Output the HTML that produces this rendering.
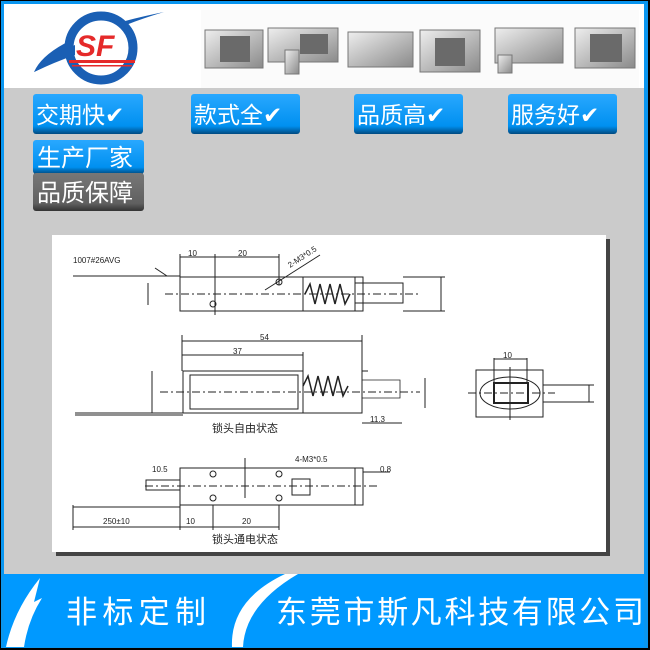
<!DOCTYPE html>
<html><head><meta charset="utf-8"><style>
html,body{margin:0;padding:0;background:#000;}
svg{display:block}
text{font-family:"Liberation Sans","Noto Sans CJK SC",sans-serif}
</style></head><body>
<svg width="650" height="650" viewBox="0 0 650 650" xmlns="http://www.w3.org/2000/svg">
<defs>
<linearGradient id="bb" x1="0" y1="0" x2="0" y2="1"><stop offset="0" stop-color="#29a8ff"/><stop offset="0.8" stop-color="#0090f0"/><stop offset="1" stop-color="#004a80"/></linearGradient>
<linearGradient id="gb" x1="0" y1="0" x2="0" y2="1"><stop offset="0" stop-color="#777"/><stop offset="0.8" stop-color="#606060"/><stop offset="1" stop-color="#333"/></linearGradient>
<linearGradient id="pg" x1="0" y1="0" x2="1" y2="1"><stop offset="0" stop-color="#eeeeee"/><stop offset="1" stop-color="#8a8a8a"/></linearGradient>
</defs>
<rect x="1" y="1" width="647" height="647" fill="#0a96f0"/>
<rect x="4" y="4" width="640" height="84" fill="#fff"/>
<rect x="4" y="88" width="640" height="486" fill="#cbcbcb"/>
<rect x="4" y="574" width="640" height="73" fill="#0099ff"/>
<!-- logo -->
<path d="M34 72 Q50 35 164 12 Q120 25 95 40 Q60 60 34 72 Z" fill="#1a5fb4"/>
<ellipse cx="101" cy="48" rx="32" ry="32" fill="#fff" stroke="#1a5fb4" stroke-width="9"/>
<path d="M34 72 Q50 55 75 45 L75 55 Q55 62 34 72 Z" fill="#1a5fb4"/>
<text x="76" y="56" font-size="30" font-weight="bold" font-style="italic" fill="#e52a2a" font-family="Liberation Sans,sans-serif">SF</text>
<rect x="69" y="60" width="66" height="3" fill="#e52a2a"/>
<rect x="72" y="65" width="60" height="1.5" fill="#e52a2a"/>
<!-- product images -->
<rect x="201" y="10" width="438" height="78" fill="#fbfbfb"/>
<g fill="url(#pg)" stroke="#777" stroke-width="1">
<rect x="205" y="30" width="58" height="38"/>
<rect x="268" y="28" width="70" height="34"/><rect x="285" y="50" width="14" height="24"/>
<rect x="348" y="32" width="65" height="35"/>
<rect x="420" y="30" width="60" height="42"/>
<rect x="495" y="28" width="68" height="35"/><rect x="498" y="55" width="14" height="18"/>
<rect x="575" y="28" width="60" height="40"/>
</g>
<g fill="#6a6a6a"><rect x="220" y="36" width="30" height="26"/><rect x="435" y="38" width="30" height="28"/><rect x="590" y="34" width="32" height="28"/><rect x="300" y="34" width="28" height="20"/></g>
<!-- buttons -->
<g font-size="23" fill="#fff">
<rect x="33" y="94" width="110" height="40" rx="3" fill="url(#bb)"/><text x="36" y="123">交期快✔</text>
<rect x="191" y="94" width="109" height="40" rx="3" fill="url(#bb)"/><text x="194" y="123">款式全✔</text>
<rect x="354" y="94" width="109" height="40" rx="3" fill="url(#bb)"/><text x="357" y="123">品质高✔</text>
<rect x="508" y="94" width="109" height="40" rx="3" fill="url(#bb)"/><text x="511" y="123">服务好✔</text>
<rect x="33" y="140" width="111" height="34" rx="3" fill="url(#bb)"/><text x="37" y="166" font-size="24">生产厂家</text>
<rect x="33" y="173" width="111" height="38" rx="3" fill="url(#gb)"/><text x="37" y="201" font-size="24">品质保障</text>
</g>
<!-- diagram -->
<rect x="56" y="239" width="554" height="317" fill="#444"/>
<rect x="52" y="235" width="554" height="317" fill="#fff"/>
<g stroke="#222" stroke-width="1" fill="none">
<line x1="73" y1="276" x2="180" y2="276"/><line x1="155" y1="268" x2="167" y2="276"/>
<rect x="180" y="277" width="183" height="34"/>
<line x1="303" y1="277" x2="303" y2="311"/><line x1="355" y1="277" x2="355" y2="311"/>
<rect x="355" y="283" width="48" height="20"/>
<path d="M305 294 l5 -10 l5 20 l5 -20 l5 20 l5 -20 l5 20 l5 -20 l5 20 l5 -10" stroke-width="1.5"/>
<line x1="165" y1="294" x2="420" y2="294" stroke-dasharray="8 3 2 3"/>
<line x1="180" y1="254" x2="180" y2="277"/><line x1="215" y1="254" x2="215" y2="315"/><line x1="279" y1="254" x2="279" y2="285"/>
<line x1="180" y1="257" x2="279" y2="257"/>
<circle cx="279" cy="282" r="3"/><circle cx="213" cy="304" r="3"/>
<line x1="265" y1="290" x2="320" y2="255"/>
<line x1="403" y1="277" x2="445" y2="277"/><line x1="403" y1="311" x2="445" y2="311"/><line x1="441" y1="277" x2="441" y2="311"/>
<line x1="148" y1="283" x2="148" y2="305"/>
<line x1="182" y1="335" x2="182" y2="371"/><line x1="362" y1="335" x2="362" y2="371"/><line x1="303" y1="352" x2="303" y2="371"/>
<line x1="182" y1="341" x2="362" y2="341"/><line x1="182" y1="355" x2="303" y2="355"/>
<rect x="183" y="371" width="120" height="42"/><rect x="190" y="375" width="108" height="34"/>
<path d="M183 413 L362 413 L362 371 L368 371"/>
<path d="M303 386 l5 -10 l5 20 l5 -20 l5 20 l5 -20 l5 20 l5 -20 l5 20 l5 -10" stroke-width="1.5"/>
<path d="M362 380 L400 380 L400 398 L362 398" stroke-width="0.8"/>
<line x1="160" y1="392" x2="420" y2="392" stroke-dasharray="8 3 2 3"/>
<line x1="152" y1="371" x2="152" y2="413"/><line x1="425" y1="378" x2="425" y2="408"/>
<line x1="75" y1="413" x2="183" y2="413"/><line x1="75" y1="415" x2="183" y2="415"/>
<line x1="362" y1="423" x2="402" y2="423"/>
<rect x="180" y="468" width="183" height="37"/><line x1="355" y1="468" x2="355" y2="505"/>
<rect x="292" y="479" width="18" height="16"/>
<line x1="145" y1="486" x2="380" y2="486" stroke-dasharray="8 3 2 3"/>
<rect x="146" y="480" width="34" height="10"/>
<line x1="73" y1="507" x2="180" y2="507"/>
<line x1="73" y1="505" x2="73" y2="530"/><line x1="180" y1="505" x2="180" y2="530"/><line x1="213" y1="505" x2="213" y2="530"/><line x1="279" y1="505" x2="279" y2="530"/>
<line x1="73" y1="527" x2="279" y2="527"/>
<circle cx="213" cy="474" r="3"/><circle cx="279" cy="474" r="3"/><circle cx="213" cy="498" r="3"/><circle cx="279" cy="498" r="3"/>
<line x1="245" y1="458" x2="245" y2="498"/>
<line x1="363" y1="472" x2="390" y2="472"/>
<rect x="476" y="370" width="67" height="47"/>
<ellipse cx="510" cy="393" rx="30" ry="16"/>
<rect x="494" y="383" width="34" height="20" stroke-width="2"/>
<line x1="468" y1="393" x2="555" y2="393" stroke-dasharray="8 3 2 3"/>
<line x1="510" y1="367" x2="510" y2="420"/>
<line x1="494" y1="358" x2="494" y2="383"/><line x1="527" y1="358" x2="527" y2="383"/><line x1="494" y1="359" x2="527" y2="359"/>
<line x1="543" y1="385" x2="594" y2="385"/><line x1="543" y1="402" x2="594" y2="402"/><line x1="589" y1="385" x2="589" y2="402"/>
</g>
<g font-size="8" fill="#222">
<text x="73" y="263">1007#26AVG</text>
<text x="188" y="256">10</text><text x="238" y="256">20</text>
<text x="290" y="268" transform="rotate(-33 290 268)">2-M3*0.5</text>
<text x="260" y="340">54</text><text x="233" y="354">37</text>
<text x="370" y="422">11.3</text>
<text x="152" y="472">10.5</text><text x="295" y="462">4-M3*0.5</text><text x="380" y="472">0.8</text>
<text x="103" y="524">250±10</text><text x="186" y="524">10</text><text x="242" y="524">20</text>
<text x="503" y="358">10</text>
</g>
<g font-size="11" fill="#222"><text x="212" y="432">锁头自由状态</text><text x="212" y="543">锁头通电状态</text></g>
<!-- bottom -->
<path d="M6 647 Q14 610 40 578 L34 602 L42 598 Q28 620 24 647 Z" fill="#fff"/>
<path d="M232 647 Q230 600 285 574 L298 574 Q245 605 243 647 Z" fill="#fff"/>
<g font-size="31" fill="#fff"><text x="66" y="623" textLength="140">非标定制</text><text x="276" y="623" textLength="368">东莞市斯凡科技有限公司</text></g>
</svg>
</body></html>
